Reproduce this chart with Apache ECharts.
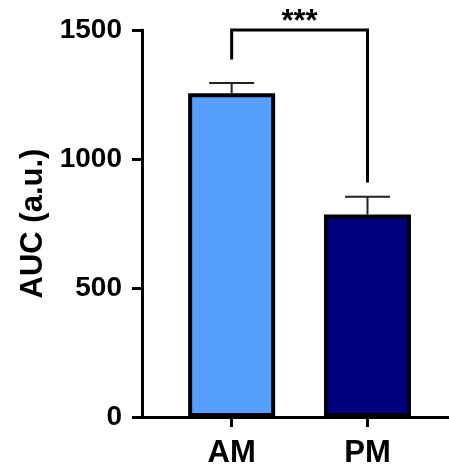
<!DOCTYPE html>
<html>
<head>
<meta charset="utf-8">
<script src="https://cdn.jsdelivr.net/npm/echarts@6/dist/echarts.min.js"></script>
<style>
  html, body { margin: 0; padding: 0; background: #fff; }
  #chart { width: 449px; height: 466px; }
</style>
</head>
<body>
<div id="chart"></div>
<script>
// data
var groups = ['AM', 'PM'];
var groupPos = [1, 2];
var means = [1255, 785];
var sems = [40, 69];
var barColors = ['#56a0fb', '#00007f'];
var yTicks = [0, 500, 1000, 1500];
// significance bracket: left leg bottom, top, right leg bottom
var bracketLegs = [1386, 1500, 909];
var starsText = '***';
var starsY = 1528;

var font = '"Liberation Sans", Arial, sans-serif';
var myChart = echarts.init(document.getElementById('chart'));

var barData = [];
var errData = [];
for (var i = 0; i < groups.length; i++) {
  barData.push({ value: [groupPos[i], means[i]], itemStyle: { color: barColors[i] } });
  errData.push([groupPos[i], means[i], means[i] + sems[i]]);
}

var bracketData = [
  [groupPos[0], bracketLegs[0]],
  [groupPos[0], bracketLegs[1]],
  [groupPos[1], bracketLegs[1]],
  [groupPos[1], bracketLegs[2]]
];

var option = {
  animation: false,
  grid: { left: 142, right: 0, top: 30, bottom: 49, containLabel: false, outerBoundsMode: 'none' },
  xAxis: {
    type: 'value',
    min: 0.34,
    max: 2.6,
    splitLine: { show: false },
    axisLine: { show: true, lineStyle: { color: '#000', width: 3 } },
    axisTick: { show: true, customValues: groupPos, length: 10, lineStyle: { color: '#000', width: 3 } },
    axisLabel: {
      customValues: groupPos,
      margin: 21,
      color: '#000',
      fontFamily: font,
      fontWeight: 'bold',
      fontSize: 31,
      formatter: function (v) { return groups[groupPos.indexOf(v)] || ''; }
    }
  },
  yAxis: {
    type: 'value',
    min: yTicks[0],
    max: yTicks[yTicks.length - 1],
    interval: 500,
    name: 'AUC (a.u.)',
    nameLocation: 'middle',
    nameGap: 91,
    nameTextStyle: { color: '#000', fontFamily: font, fontWeight: 'bold', fontSize: 31 },
    splitLine: { show: false },
    axisLine: { show: true, lineStyle: { color: '#000', width: 3 } },
    axisTick: { show: true, length: 10, lineStyle: { color: '#000', width: 3 } },
    axisLabel: {
      margin: 20, color: '#000', fontFamily: font, fontWeight: 'bold', fontSize: 28,
      formatter: function (v) { return String(v); }
    }
  },
  series: [
    {
      type: 'bar',
      barWidth: 87,
      data: barData,
      itemStyle: { borderColor: '#000', borderWidth: 4 }
    },
    {
      type: 'custom',
      data: errData,
      z: 5,
      renderItem: function (params, api) {
        var base = api.coord([api.value(0), api.value(1)]);
        var top = api.coord([api.value(0), api.value(2)]);
        var half = 22.5;
        return {
          type: 'group',
          children: [
            { type: 'line', shape: { x1: base[0], y1: base[1], x2: top[0], y2: top[1] }, style: { stroke: '#222', lineWidth: 2 } },
            { type: 'line', shape: { x1: top[0] - half, y1: top[1], x2: top[0] + half, y2: top[1] }, style: { stroke: '#222', lineWidth: 2 } }
          ]
        };
      }
    },
    {
      type: 'line',
      data: bracketData,
      symbol: 'none',
      clip: false,
      lineStyle: { color: '#000', width: 3, join: 'miter', cap: 'butt' },
      z: 6
    },
    {
      type: 'scatter',
      data: [[(groupPos[0] + groupPos[1]) / 2, starsY]],
      symbolSize: 0,
      clip: false,
      itemStyle: { opacity: 1 },
      label: {
        show: true,
        position: 'inside',
        formatter: starsText,
        color: '#000',
        fontFamily: font,
        fontWeight: 'bold',
        fontSize: 31
      }
    }
  ]
};
myChart.setOption(option);
</script>
</body>
</html>
